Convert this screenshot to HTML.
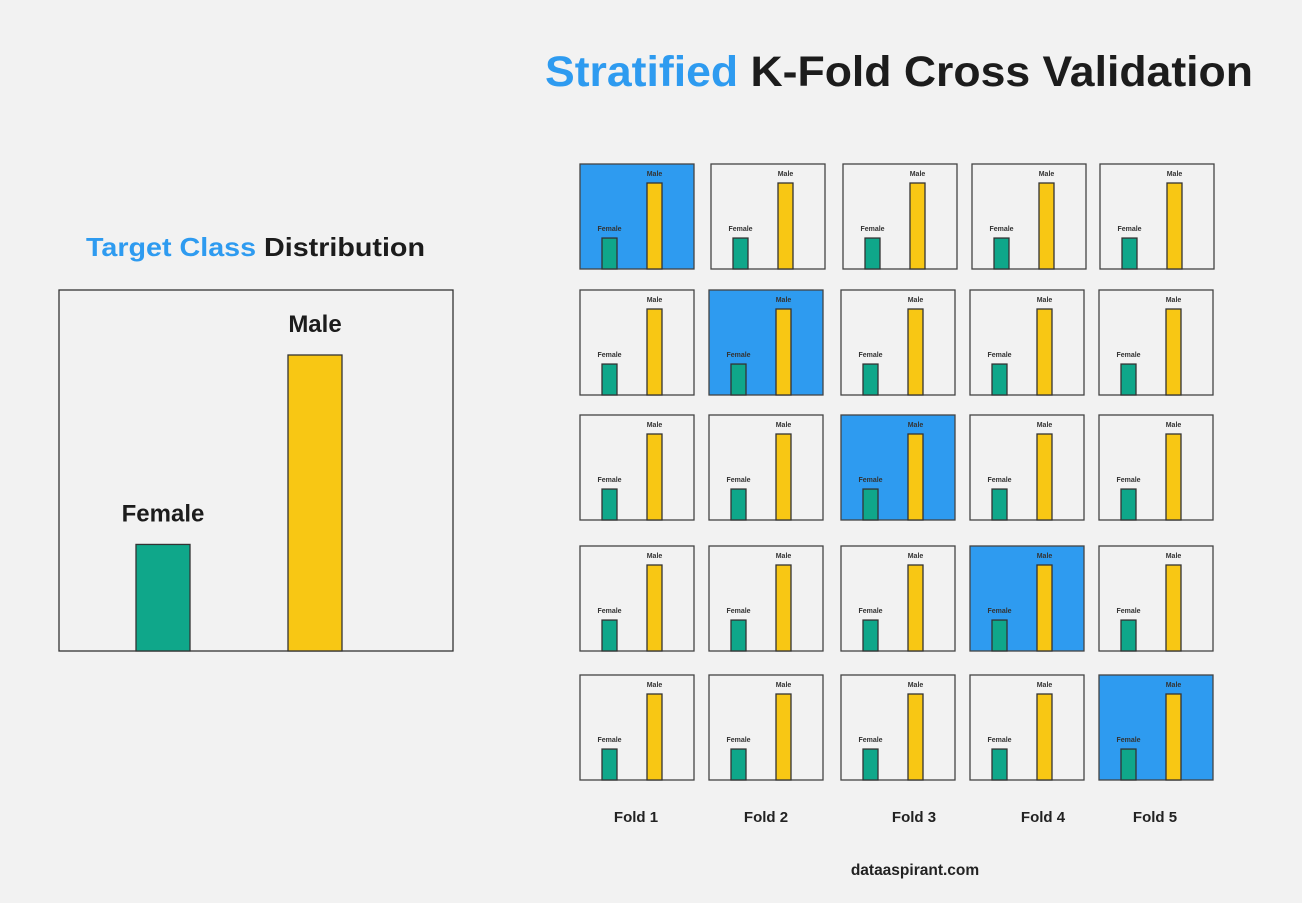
<!DOCTYPE html>
<html><head><meta charset="utf-8"><style>
html,body{margin:0;padding:0;background:#f2f2f2;}
svg{display:block;font-family:"Liberation Sans",sans-serif;font-weight:bold;}
</style></head><body>
<svg id="chart" width="1302" height="903" viewBox="0 0 1302 903">
<rect width="1302" height="903" fill="#f2f2f2"/>
<text x="545" y="86" font-size="43" textLength="708" lengthAdjust="spacingAndGlyphs"><tspan fill="#2e9bf0">Stratified</tspan><tspan fill="#1c1c1c"> K-Fold Cross Validation</tspan></text>
<text x="86" y="256" font-size="26" textLength="339" lengthAdjust="spacingAndGlyphs"><tspan fill="#2e9bf0">Target Class</tspan><tspan fill="#1c1c1c"> Distribution</tspan></text>
<g id="big"></g>
<g id="grid"></g>
<text x="915" y="875" font-size="15.5" text-anchor="middle" fill="#222">dataaspirant.com</text>
</svg>
<script>
const categories = ["Female", "Male"];
const values = [36, 100];
const foldLabels = ["Fold 1", "Fold 2", "Fold 3", "Fold 4", "Fold 5"];
const testFold = [0, 1, 2, 3, 4];
const NS = "http://www.w3.org/2000/svg";
function mk(tag, attrs, parent){const e=document.createElementNS(NS,tag);for(const k in attrs)e.setAttribute(k,attrs[k]);parent.appendChild(e);return e;}
const colors = ["#0fa78a", "#f8c714"];
const big = document.getElementById("big");
const bx0=59, by0=290, bw=394, bh=361;
const bigBox = mk("rect",{x:bx0,y:by0,width:bw,height:bh,fill:"#f2f2f2",stroke:"#333","stroke-width":1.3},big);


const bigY = v => by0+bh - v*2.96;
const bigX = i => 136 + i*152;
categories.forEach((c,i)=>{
  const r = mk("rect",{x:bigX(i),y:bigY(values[i]),width:54,height:by0+bh-bigY(values[i]),fill:colors[i],stroke:"#333","stroke-width":1.3},big);
  
  
  const t = mk("text",{x:bigX(i)+27,y:bigY(values[i])-23,"font-size":24,"text-anchor":"middle",fill:"#1c1c1c"},big);
  t.textContent=c;
  
  
});
const grid = document.getElementById("grid");
const rowsY=[164,290,415,546,675];
const colsX=[[580,711,843,972,1100],[580,709,841,970,1099],[580,709,841,970,1099],[580,709,841,970,1099],[580,709,841,970,1099]];
const W=114,H=105;
rowsY.forEach((y,r)=>{
  colsX[r].forEach((x,c)=>{
    const g = mk("g",{},grid);
    
    
    const isTest = testFold[r]===c;
    mk("rect",{x:x,y:y,width:W,height:H,fill:isTest?"#2e9bf0":"#f2f2f2",stroke:"#444","stroke-width":1.3},g);
    const base=y+H;
    const my = v => base - v*0.86;
    categories.forEach((cat,i)=>{
      const bxx = x+22+i*45;
      const b = mk("rect",{x:bxx,y:my(values[i]),width:15,height:base-my(values[i]),fill:colors[i],stroke:"#333","stroke-width":1.3},g);
      
      
      const t = mk("text",{x:bxx+7.5,y:my(values[i])-7,"font-size":7,"text-anchor":"middle",fill:"#333"},g);
      t.textContent=cat;
      
      
    });
  });
});
const foldX=[636,766,914,1043,1155];
foldLabels.forEach((f,i)=>{
  const t = mk("text",{x:foldX[i],y:822,"font-size":15,"text-anchor":"middle",fill:"#222"},grid);
  t.textContent=f;
  
  
});
</script>
</body></html>
